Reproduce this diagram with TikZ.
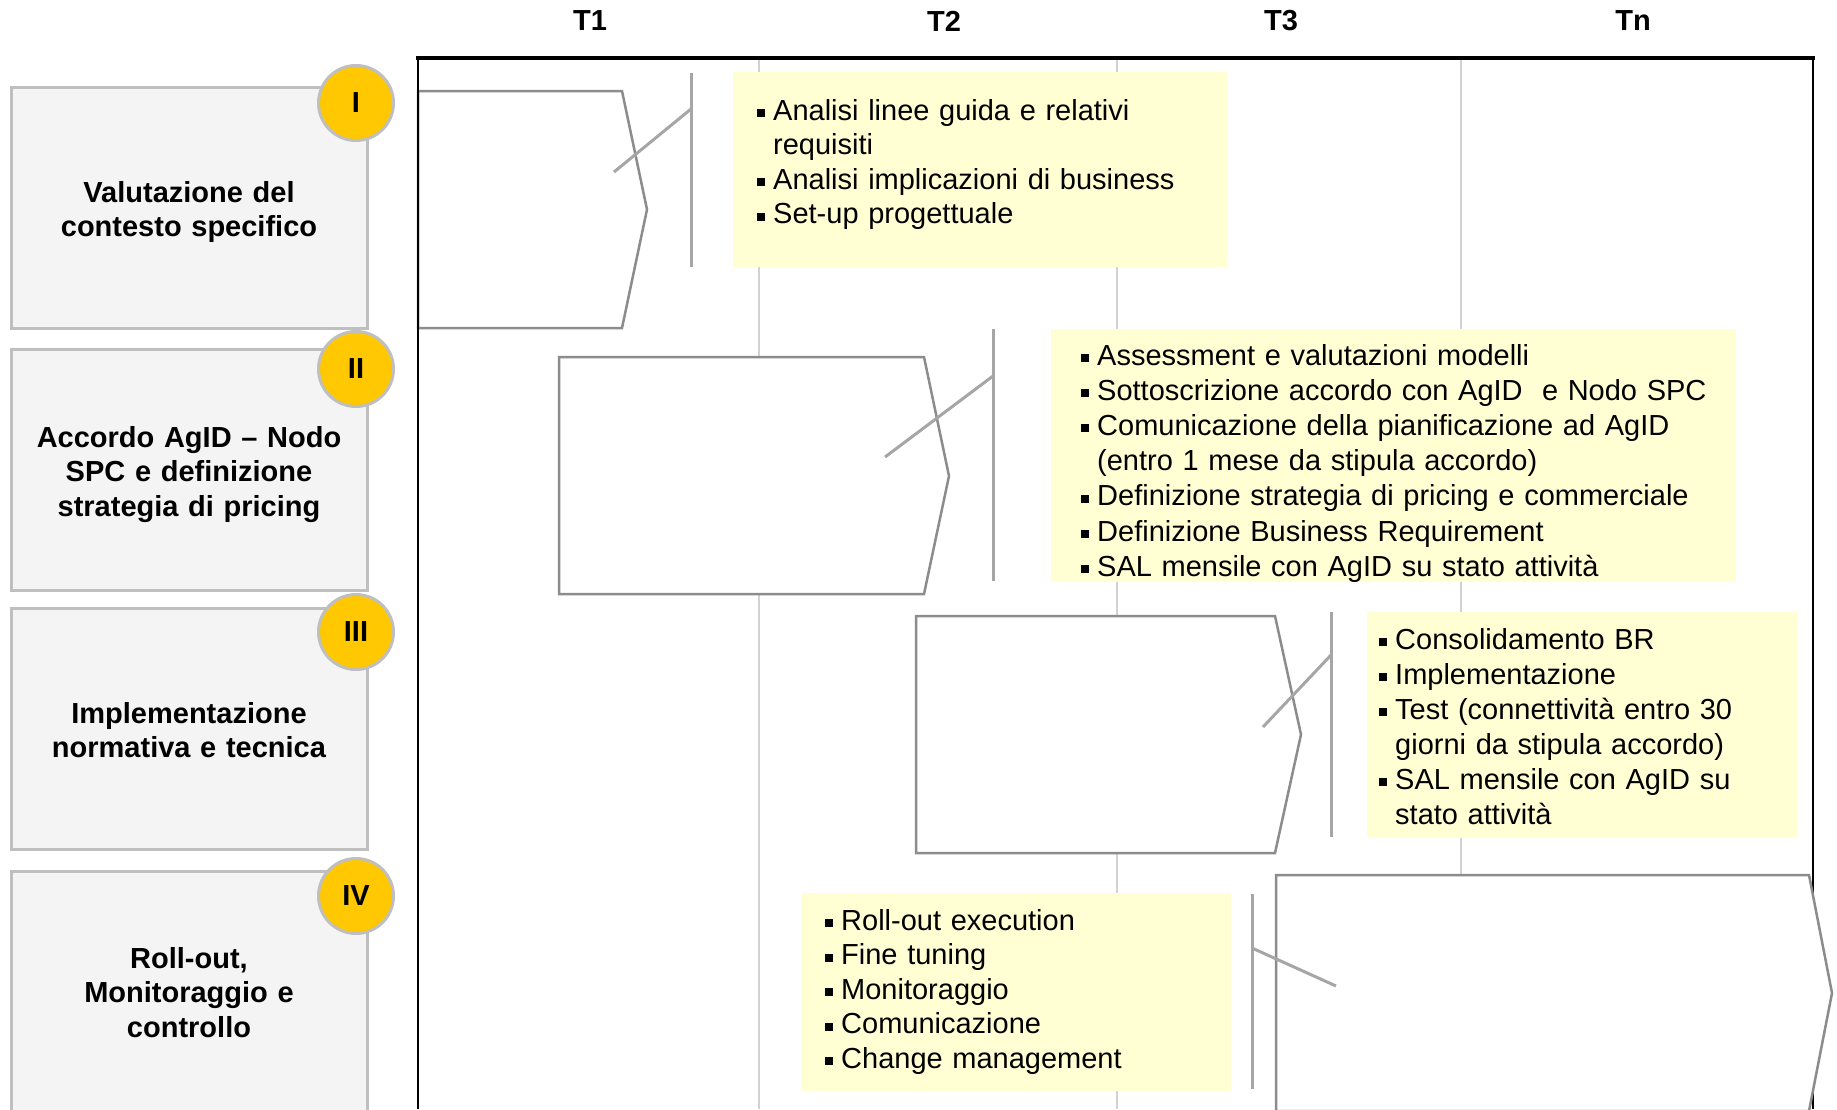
\documentclass[tikz,border=0pt]{standalone}
\usepackage{fontspec}
\setmainfont{Liberation Sans}
\definecolor{boxfill}{HTML}{F4F4F4}
\definecolor{boxline}{HTML}{BFBFBF}
\definecolor{gold}{HTML}{FFC800}
\definecolor{ylw}{HTML}{FFFFD3}
\definecolor{pentline}{HTML}{8C8C8C}
\definecolor{gridline}{HTML}{D2D2D2}
\definecolor{tickline}{HTML}{A6A6A6}
\newcommand\mybul{\leavevmode\llap{\rule[3pt]{8pt}{8pt}\hspace{8pt}}}
\begin{document}
\begin{tikzpicture}[x=1pt,y=-1pt,
  phasebox/.style={draw=boxline,line width=3pt,fill=boxfill,minimum width=356pt,minimum height=241pt,inner sep=0pt},
  phasetext/.style={font=\fontsize{29}{34.5}\selectfont\bfseries,text width=340pt,align=center,inner sep=0pt,anchor=base},
  numcirc/.style={circle,draw=boxline,line width=3pt,fill=gold,minimum size=75pt,inner sep=0pt,font=\fontsize{29}{34}\selectfont\bfseries},
  hdr/.style={font=\fontsize{29}{34}\selectfont\bfseries,inner sep=0pt},
  pentst/.style={draw=pentline,line width=2.5pt,fill=white,line join=miter},
  ylwbox/.style={fill=ylw,draw=none},
  ticks/.style={draw=tickline,line width=3pt},
  gridst/.style={draw=gridline,line width=2pt},
  listtext/.style={font=\fontsize{29}{34.5}\selectfont,align=left,inner sep=0pt,anchor=base west}
]
\useasboundingbox (0,0) rectangle (1837,1109);
\clip (0,0) rectangle (1837,1109);
\fill[white] (0,0) rectangle (1837,1109);

% headers
\node[hdr] (t1) at (590,21) {T1};
\node[hdr] (t2) at (944,21) {T2};
\node[hdr] (t3) at (1281,21) {T3};
\node[hdr] (tn) at (1633,21) {Tn};

% grid lines
\draw[gridst] (759,60) -- (759,1109);
\draw[gridst] (1117,60) -- (1117,1109);
\draw[gridst] (1461,60) -- (1461,1109);

% right frame line (covered by phase IV shape)
\draw[black,line width=2.5pt] (1813,58) -- (1813,1109);

% left phase boxes
\node[phasebox] (p1) at (189,207.5) {};
\node[phasebox] (p2) at (189,469.5) {};
\node[phasebox] (p3) at (189,729) {};
\node[phasebox,minimum height=300pt,anchor=north] (p4) at (189,870) {};
\node[phasetext] (p1t) at (189,202) {Valutazione del\\contesto specifico};
\node[phasetext] (p2t) at (189,447) {Accordo AgID -- Nodo\\SPC e definizione\\strategia di pricing};
\node[phasetext] (p3t) at (189,723) {Implementazione\\normativa e tecnica};
\node[phasetext] (p4t) at (189,968) {Roll-out,\\Monitoraggio e\\controllo};
\node[numcirc] (c1) at (356,103) {I};
\node[numcirc] (c2) at (356,369) {II};
\node[numcirc] (c3) at (356,632) {III};
\node[numcirc] (c4) at (356,896) {IV};

% phase arrows (pentagons)
\draw[pentst] (418,91) -- (622,91) -- (647,209.5) -- (622,328) -- (418,328) -- cycle;
\draw[pentst] (559,357) -- (924,357) -- (949,476) -- (924,594) -- (559,594) -- cycle;
\draw[pentst] (916,616) -- (1275,616) -- (1301,734.5) -- (1275,853) -- (916,853) -- cycle;
\draw[pentst] (1276,875) -- (1809,875) -- (1832,993) -- (1809,1111) -- (1276,1111) -- cycle;

% frame top and left
\draw[black,line width=4pt] (416,58) -- (1815,58);
\draw[black,line width=2.5pt] (418,58) -- (418,1109);

% yellow boxes
\fill[ylwbox] (733,72) rectangle (1227,267);
\fill[ylwbox] (1051,329) rectangle (1736,582);
\fill[ylwbox] (1367,612) rectangle (1797,838);
\fill[ylwbox] (801,893) rectangle (1231,1091);

% callout ticks
\draw[ticks] (691,73) -- (691,267);
\draw[ticks] (614,172) -- (691,109);
\draw[ticks] (993,329) -- (993,581);
\draw[ticks] (885,457) -- (993,376);
\draw[ticks] (1331,612) -- (1331,837);
\draw[ticks] (1263,727) -- (1331,655);
\draw[ticks] (1252,894) -- (1252,1089);
\draw[ticks] (1252,948) -- (1336,986);

% lists
\node[listtext,text width=450pt] (l1) at (773,120)
  {\mybul Analisi linee guida e relativi\\requisiti\\\mybul Analisi implicazioni di business\\\mybul Set-up progettuale};
\node[listtext,text width=640pt,font=\fontsize{29}{35.2}\selectfont] (l2) at (1097,365)
  {\mybul Assessment e valutazioni modelli\\\mybul Sottoscrizione accordo con AgID~ e Nodo SPC\\\mybul Comunicazione della pianificazione ad AgID\\(entro 1 mese da stipula accordo)\\\mybul Definizione strategia di pricing e commerciale\\\mybul Definizione Business Requirement\\\mybul SAL mensile con AgID su stato attività};
\node[listtext,text width=460pt,font=\fontsize{29}{35}\selectfont] (l3) at (1395,649)
  {\mybul Consolidamento BR\\\mybul Implementazione\\\mybul Test (connettività entro 30\\giorni da stipula accordo)\\\mybul SAL mensile con AgID su\\stato attività};
\node[listtext,text width=400pt] (l4) at (841,930)
  {\mybul Roll-out execution\\\mybul Fine tuning\\\mybul Monitoraggio\\\mybul Comunicazione\\\mybul Change management};
\end{tikzpicture}
\end{document}
